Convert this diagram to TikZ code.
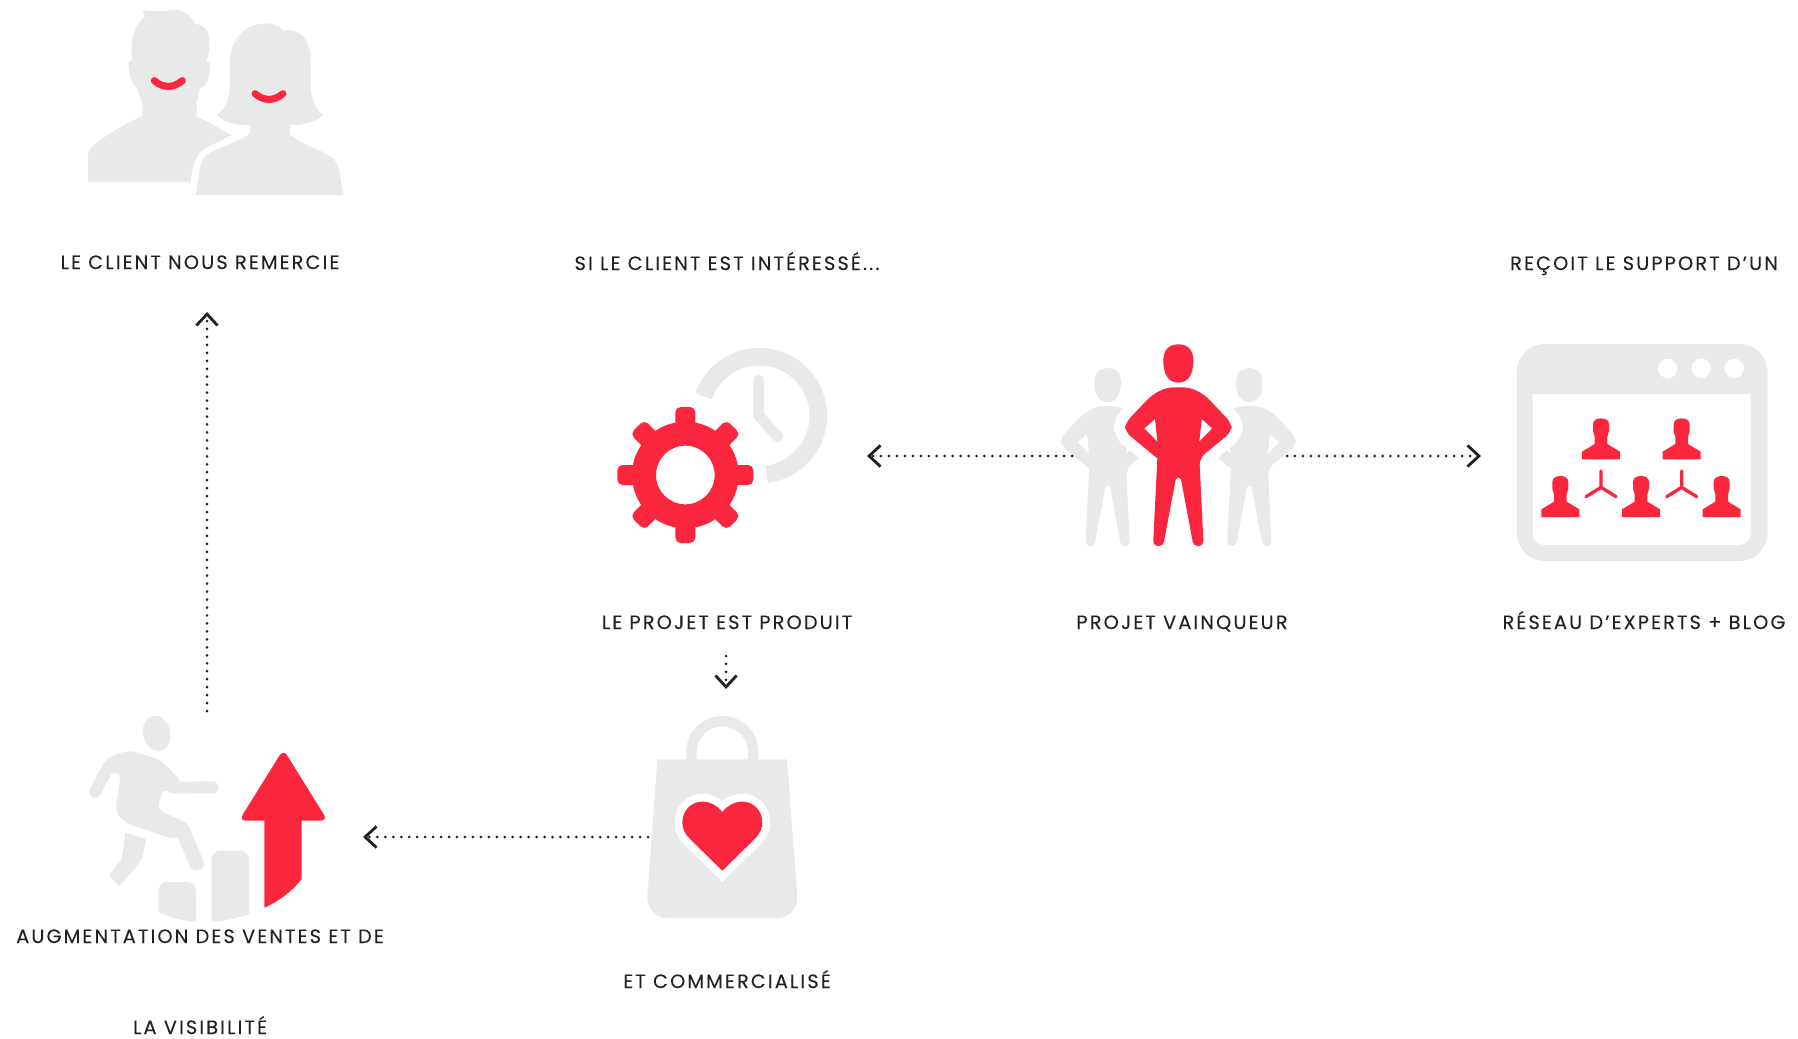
\documentclass[tikz,border=0pt]{standalone}
\usepackage{fontspec}
\usepackage{xcolor}
\setmainfont{Poppins}[LetterSpace=11,FakeBold=0.12]
\usetikzlibrary{arrows.meta}

\definecolor{iconred}{HTML}{FA263D}
\definecolor{icongray}{HTML}{E8E9E9}
\definecolor{captionink}{HTML}{222222}

\tikzset{
    redfill/.style={fill=iconred,draw=none},
    grayfill/.style={fill=icongray,draw=none},
    caption/.style={text=captionink,font=\fontsize{11}{12}\selectfont,inner sep=0pt,anchor=base},
    dotline/.style={draw=captionink,line width=1.7pt,line cap=round,dash pattern=on 0pt off 4.53pt,
        -{Straight Barb[length=6.5pt,width=12pt,line width=1.6pt]}}
}

\newcommand{\manhead}{(0,-605) .. controls (32,-605) and (45,-585) .. (45,-555)
    .. controls (45,-515) and (30,-490) .. (0,-490)
    .. controls (-30,-490) and (-45,-515) .. (-45,-555)
    .. controls (-45,-585) and (-32,-605) .. (0,-605) -- cycle}
\newcommand{\manbody}{[rounded corners=4pt] (-35,-476) -- (35,-476) -- (80,-453) -- (160,-368) -- (160,-343) -- (63,-263)
    [sharp corners] -- (75,-18) .. controls (75,-5) and (70,0) .. (58,0) .. controls (50,0) and (44,-6) .. (43,-13)
    -- (8,-200) -- (0,-206) -- (-8,-200) -- (-43,-13)
    .. controls (-44,-6) and (-50,0) .. (-58,0) .. controls (-70,0) and (-75,-5) .. (-75,-18)
    -- (-63,-263) [rounded corners=4pt] -- (-160,-343) -- (-160,-368) -- (-80,-453) -- cycle
    [sharp corners] (-70,-381) -- (-102,-353) -- (-63,-313) -- cycle
    (70,-381) -- (102,-353) -- (63,-313) -- cycle}
\newcommand{\expert}{(-19,-46) -- (-19,-68) -- (-24,-85) -- (-24,-105)
    .. controls (-24,-118) and (-12,-123) .. (0,-123) .. controls (12,-123) and (24,-118) .. (24,-105)
    -- (24,-85) -- (19,-68) -- (19,-46) -- (57,-23) -- (57,0) -- (-57,0) -- (-57,-23) -- cycle}

\begin{document}
\begin{tikzpicture}[x=0.02cm,y=-0.02cm]
        \useasboundingbox (0,0) rectangle (1798,1038);

        % client couple
        \begin{scope}[shift={(60,0)},scale=1/3]
        \fill[grayfill] (248,30) .. controls (280,36) and (315,34) .. (345,30) .. controls (370,30) and (392,45) .. (405,72)
            .. controls (435,72) and (450,100) .. (448,130) .. controls (448,150) and (444,168) .. (440,185)
            .. controls (452,185) and (453,198) .. (450,210) .. controls (446,235) and (438,262) .. (420,264)
            -- (410,305) -- (410,348) -- (515,405) -- (445,440) .. controls (410,458) and (398,490) .. (392,545)
            -- (85,545) -- (83,470) .. controls (85,450) and (95,440) .. (110,428) .. controls (160,392) and (200,368) .. (247,348)
            -- (247,310) -- (230,260) .. controls (215,255) and (207,225) .. (205,190) .. controls (205,182) and (210,180) .. (217,180)
            .. controls (212,140) and (212,85) .. (255,50) -- cycle;
        \fill[grayfill] (620,70) .. controls (640,70) and (660,78) .. (670,92) .. controls (725,85) and (752,120) .. (752,190)
            -- (752,250) .. controls (752,295) and (765,330) .. (790,345) .. controls (765,368) and (725,376) .. (690,375)
            -- (690,402) .. controls (710,425) and (770,445) .. (805,465) .. controls (825,475) and (835,495) .. (838,515)
            -- (851,585) -- (408,585) -- (420,500) .. controls (425,480) and (435,465) .. (455,455)
            .. controls (500,435) and (545,420) .. (570,400) -- (570,375) .. controls (530,376) and (495,370) .. (470,345)
            .. controls (495,330) and (510,295) .. (510,250) -- (510,190) .. controls (510,120) and (550,70) .. (620,70) -- cycle;
        \draw[iconred,line width=4pt,line cap=round] (283,242) .. controls (310,265) and (340,265) .. (367,242);
        \draw[iconred,line width=4pt,line cap=round] (585,281) .. controls (612,304) and (642,304) .. (669,281);
        \end{scope}

        % clock and gear
        \begin{scope}[shift={(600,320)},scale=1/3]
        \draw[icongray,line width=10pt] (478,287) ++(-161:177) arc (-161:83:177);
        \draw[icongray,line width=6.2pt,line cap=round,line join=round] (476,180) -- (476,287) -- (533,350);
        \begin{scope}[shift={(256,465)}]
        \foreach \a in {0,45,...,315}
            \fill[redfill,rotate=\a,rounded corners=3pt] (-30,-204) rectangle (30,-140);
        \fill[redfill,even odd rule] (0,0) circle (160) (0,0) circle (88);
        \end{scope}
        \end{scope}

        % winning project
        \begin{scope}[shift={(1040,320)},scale=1/3]
        \begin{scope}[shift={(203,678)},scale=0.882]
        \fill[grayfill] \manhead;
        \fill[grayfill,even odd rule] \manbody;
        \end{scope}
        \begin{scope}[shift={(628,678)},scale=0.882]
        \fill[grayfill] \manhead;
        \fill[grayfill,even odd rule] \manbody;
        \end{scope}
        \begin{scope}[shift={(415,678)}]
        \draw[white,fill=white,line width=13pt] \manbody;
        \fill[redfill] \manhead;
        \fill[redfill,even odd rule] \manbody;
        \end{scope}
        \end{scope}

        % window with experts
        \begin{scope}[shift={(1500,330)},scale=1/3]
        \fill[grayfill,rounded corners=16pt] (50,42) rectangle (803,693);
        \fill[white] (98,192) -- (752,192) [rounded corners=6.6pt] -- (752,645) -- (98,645) [sharp corners] -- cycle;
        \foreach \x in {503,603,703}
            \fill[white] (\x,115) circle (29);
        \foreach \x/\y in {303/388,545/388,181/561,423/561,665/561}
            \fill[redfill,shift={(\x,\y)}] \expert;
        \foreach \x in {303,545}
            \draw[iconred,line width=1.9pt,line cap=round] (\x,472) -- ++(0,-49) (\x,472) -- ++(-45,28) (\x,472) -- ++(45,28);
        \end{scope}

        % climbing figure and arrow
        \begin{scope}[shift={(70,700)},scale=1/3]
        \fill[grayfill,rotate around={12:(260,100)}] (260,100) ellipse (41 and 53);
        \draw[icongray,line width=6.8pt,line cap=round] (118,197) -- (75,275);
        \draw[icongray,line width=6.8pt,line cap=round] (310,263) -- (428,262);
        \draw[icongray,line width=8.3pt,line cap=round] (335,385) -- (380,490);
        \fill[grayfill,rounded corners=4pt] (100,180) -- (175,150) -- (270,178) -- (335,245) -- (310,285) -- (280,262) -- (262,330) -- (345,365) -- (360,385) -- (315,420) -- (165,368) -- (136,335) -- (153,215) -- (110,225) -- cycle;
        \fill[grayfill] (165,398) -- (228,418) -- (218,470) -- (200,500) -- (148,558) -- (118,527) -- (155,475) -- (160,450) -- cycle;
        \fill[grayfill] [rounded corners=5pt] (265,636) -- (265,546) -- (378,546) [sharp corners] -- (378,665) .. controls (335,662) and (300,652) .. (265,636) -- cycle;
        \fill[grayfill] [rounded corners=5pt] (425,665) -- (425,452) -- (537,452) [sharp corners] -- (537,642) .. controls (500,655) and (465,663) .. (425,665) -- cycle;
        \fill[redfill] [rounded corners=4pt] (583,362) -- (507,362) -- (640,148) -- (773,362) [sharp corners] -- (695,362) -- (695,537) .. controls (665,575) and (625,605) .. (583,623) -- cycle;
        \end{scope}

        % shopping bag
        \begin{scope}[shift={(630,640)},scale=1/3]
        \fill[grayfill] (82,358) -- (471,358) -- (502,770) .. controls (502,810) and (475,835) .. (440,835) -- (115,835) .. controls (80,835) and (52,810) .. (52,770) -- cycle;
        \draw[icongray,line width=6pt] (184,360) -- (184,337) arc (180:360:93) -- (370,360);
        \draw[white,fill=white,line width=9pt,miter limit=10] (277,692) -- (180,597) .. controls (165,582) and (157,565) .. (157,548) .. controls (157,510) and (185,485) .. (217,485) .. controls (242,485) and (262,497) .. (277,516) .. controls (292,497) and (312,485) .. (337,485) .. controls (369,485) and (397,510) .. (397,548) .. controls (397,565) and (389,582) .. (374,597) -- cycle;
        \fill[redfill] (277,692) -- (180,597) .. controls (165,582) and (157,565) .. (157,548) .. controls (157,510) and (185,485) .. (217,485) .. controls (242,485) and (262,497) .. (277,516) .. controls (292,497) and (312,485) .. (337,485) .. controls (369,485) and (397,510) .. (397,548) .. controls (397,565) and (389,582) .. (374,597) -- cycle;
        \end{scope}

        % captions
        \node[caption] (capthanks) at (200,269) {LE CLIENT NOUS REMERCIE};
        \node[caption] (capinterest) at (727,270) {SI LE CLIENT EST INTÉRESSÉ...};
        \node[caption] (capsupport) at (1644,270) {REÇOIT LE SUPPORT D’UN};
        \node[caption] (capproduit) at (727,629) {LE PROJET EST PRODUIT};
        \node[caption] (capwinner) at (1182,629) {PROJET VAINQUEUR};
        \node[caption] (capnetwork) at (1644,629) {RÉSEAU D’EXPERTS + BLOG};
        \node[caption] (capsales) at (200,943) {AUGMENTATION DES VENTES ET DE};
        \node[caption] (capvisible) at (200,1034) {LA VISIBILITÉ};
        \node[caption] (capshop) at (727,988) {ET COMMERCIALISÉ};

        % connector ends
        \coordinate (winnerleft) at (1072,456);
        \coordinate (gearright) at (867,456);
        \coordinate (winnerright) at (1287,456);
        \coordinate (windowleft) at (1481,456);
        \coordinate (producedown) at (726,656);
        \coordinate (bagtop) at (726,689);
        \coordinate (bagleft) at (648,837);
        \coordinate (climbright) at (363,837);
        \coordinate (climbtop) at (207,711);
        \coordinate (thanksdown) at (207,312);

        \draw[dotline] (winnerleft) -- (gearright);
        \draw[dotline] (winnerright) -- (windowleft);
        \draw[dotline] (producedown) -- (bagtop);
        \draw[dotline] (bagleft) -- (climbright);
        \draw[dotline] (climbtop) -- (thanksdown);
    \end{tikzpicture}
\end{document}
